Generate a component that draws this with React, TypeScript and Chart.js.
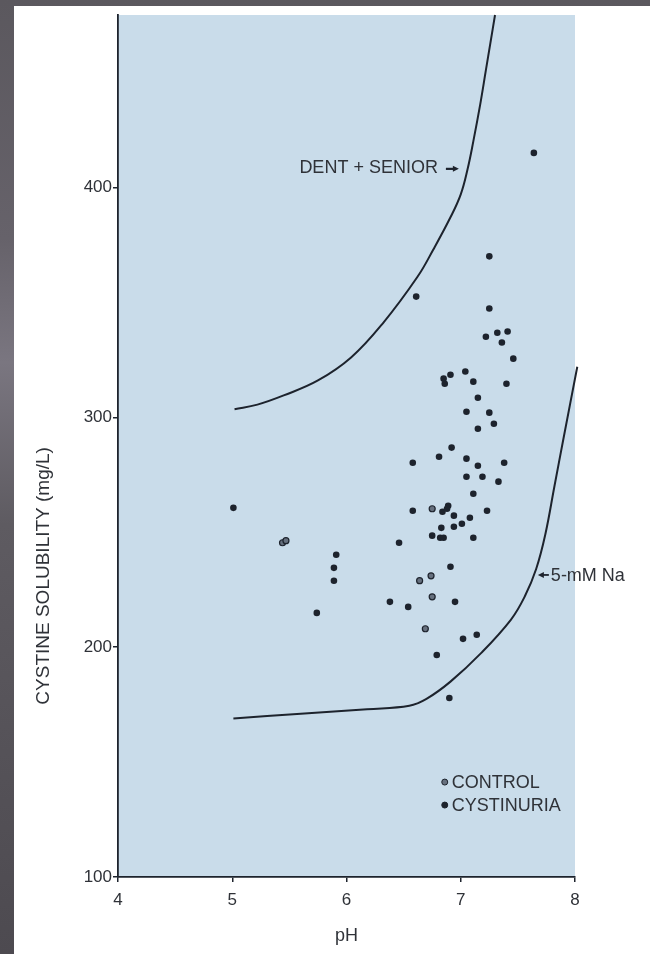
import { useEffect, useRef } from "react";
import { Chart, registerables } from "chart.js";

Chart.register(...registerables);

// ---- axes ----
const X_RANGE = [4, 8];
const Y_RANGE = [100, 475];
const X_TICKS = [4, 5, 6, 7, 8];
const Y_TICKS = [100, 200, 300, 400];
const X_TITLE = "pH";
const Y_TITLE = "CYSTINE SOLUBILITY (mg/L)";

// ---- cystinuria patients (solid dots) ----
const CYSTINURIA_PH = [
  7.64, 7.25, 6.61, 7.25, 7.22, 7.32, 7.41, 7.36, 7.46, 7.04,
  6.85, 6.91, 6.86, 7.11, 7.40, 7.15, 7.05, 7.25, 7.29, 7.15,
  6.92, 6.81, 6.58, 7.05, 7.15, 7.38, 7.05, 7.19, 7.33, 7.11,
  6.58, 6.84, 6.89, 6.88, 6.94, 7.08, 7.23, 6.83, 6.94, 7.01,
  6.75, 6.82, 6.85, 7.11, 6.46, 6.91, 6.38, 6.54, 6.95, 7.02,
  7.14, 6.79, 6.90, 5.01, 5.91, 5.89, 5.89, 5.74,
];
const CYSTINURIA_SOL = [
  415, 370, 352.5, 347.3, 335, 336.8, 337.3, 332.5, 325.5, 319.9,
  316.8, 318.5, 314.6, 315.5, 314.6, 308.5, 302.4, 302, 297.2, 295,
  286.8, 282.8, 280.2, 282, 278.9, 280.2, 274.1, 274.1, 272, 266.7,
  259.3, 258.9, 261.5, 260.2, 257.2, 256.3, 259.3, 251.9, 252.4, 253.7,
  248.5, 247.6, 247.6, 247.6, 245.4, 235, 219.7, 217.5, 219.7, 203.6,
  205.4, 196.6, 177.9, 260.6, 240.2, 234.5, 228.9, 214.9,
];

// ---- controls (grey dots) ----
const CONTROL_PH = [5.44, 5.47, 6.75, 6.64, 6.74, 6.75, 6.69];
const CONTROL_SOL = [245.4, 246.3, 260.2, 228.9, 231, 221.9, 208];

// ---- reference curves ----
const DENT_PH = [5.02, 5.22, 5.45, 5.75, 6.04, 6.32, 6.62, 6.76, 6.91, 7.0, 7.06, 7.11, 7.17, 7.22, 7.26, 7.3];
const DENT_SOL = [303.5, 305.5, 309.5, 316, 326, 341, 361, 373, 387, 397, 408, 420, 436, 451, 463, 475];

const NA_PH = [5.01, 5.6, 6.18, 6.55, 6.7, 6.91, 7.18, 7.44, 7.56, 7.66, 7.74, 7.82, 7.9, 8.02];
const NA_SOL = [169, 171, 173, 174.5, 177.5, 185, 197.5, 212, 222, 234, 249, 270, 291, 322];

const LEGEND_LABELS = ["CONTROL", "CYSTINURIA"];
const CURVE_LABELS = ["DENT + SENIOR", "5-mM Na"];

const FONT = "'Liberation Sans', Arial, Helvetica, sans-serif";
const INK = "#1d232d";
const TEXT = "#2f3238";
const PLOT_BG = "#c9dcea";
const CONTROL_FILL = "#66707e";

const pts = (xs: number[], ys: number[]) => xs.map((x, i) => ({ x, y: ys[i] }));

const decorPlugin = {
  id: "decor",
  beforeDraw(chart: any) {
    const { ctx, chartArea } = chart;
    ctx.save();
    ctx.fillStyle = PLOT_BG;
    ctx.fillRect(chartArea.left, chartArea.top, chartArea.right - chartArea.left, chartArea.bottom - chartArea.top);
    ctx.restore();
  },
  afterDraw(chart: any) {
    const { ctx, scales } = chart;
    const sx = scales.x;
    const sy = scales.y;
    ctx.save();
    ctx.fillStyle = TEXT;
    ctx.strokeStyle = INK;

    // Y axis title
    ctx.save();
    ctx.translate(44, sy.getPixelForValue(231));
    ctx.rotate(-Math.PI / 2);
    ctx.font = `19px ${FONT}`;
    ctx.textAlign = "center";
    ctx.textBaseline = "middle";
    ctx.fillText(Y_TITLE, 0, 0);
    ctx.restore();

    // DENT + SENIOR label with arrow
    const dx = sx.getPixelForValue(6.8);
    const dy = sy.getPixelForValue(408.5);
    ctx.font = `18px ${FONT}`;
    ctx.textAlign = "right";
    ctx.textBaseline = "middle";
    ctx.fillText(CURVE_LABELS[0], dx, dy);
    ctx.fillStyle = INK;
    ctx.lineWidth = 2.2;
    ctx.beginPath();
    ctx.moveTo(dx + 8, dy + 1);
    ctx.lineTo(dx + 16, dy + 1);
    ctx.stroke();
    ctx.beginPath();
    ctx.moveTo(dx + 21, dy + 1);
    ctx.lineTo(dx + 15, dy - 2);
    ctx.lineTo(dx + 15, dy + 4);
    ctx.closePath();
    ctx.fill();

    // 5-mM Na label with arrow
    const nx = sx.getPixelForValue(7.675);
    const ny = sy.getPixelForValue(231.4);
    ctx.beginPath();
    ctx.moveTo(nx + 4, ny);
    ctx.lineTo(nx + 11, ny);
    ctx.lineWidth = 1.8;
    ctx.stroke();
    ctx.beginPath();
    ctx.moveTo(nx, ny);
    ctx.lineTo(nx + 6, ny - 3);
    ctx.lineTo(nx + 6, ny + 3);
    ctx.closePath();
    ctx.fill();
    ctx.fillStyle = TEXT;
    ctx.textAlign = "left";
    ctx.fillText(CURVE_LABELS[1], nx + 13, ny + 1);

    // legend
    const lx = sx.getPixelForValue(6.86);
    const ly = [sy.getPixelForValue(141.3), sy.getPixelForValue(131.3)];
    const fills = [CONTROL_FILL, INK];
    LEGEND_LABELS.forEach((lab, i) => {
      ctx.beginPath();
      ctx.arc(lx, ly[i], 3, 0, Math.PI * 2);
      ctx.fillStyle = fills[i];
      ctx.fill();
      ctx.lineWidth = 1;
      ctx.strokeStyle = INK;
      ctx.stroke();
      ctx.fillStyle = TEXT;
      ctx.font = `18px ${FONT}`;
      ctx.textAlign = "left";
      ctx.textBaseline = "middle";
      ctx.fillText(lab, lx + 7, ly[i] + 1);
    });
    ctx.restore();
  },
};

export default function App() {
  const ref = useRef<HTMLCanvasElement>(null);

  useEffect(() => {
    const canvas = ref.current;
    if (!canvas) return;
    const chart = new Chart(canvas, {
      type: "scatter",
      data: {
        datasets: [
          {
            label: CURVE_LABELS[0],
            data: pts(DENT_PH, DENT_SOL),
            showLine: true,
            borderColor: INK,
            borderWidth: 2,
            pointRadius: 0,
            tension: 0.4,
            clip: 4,
          } as any,
          {
            label: CURVE_LABELS[1],
            data: pts(NA_PH, NA_SOL),
            showLine: true,
            borderColor: INK,
            borderWidth: 2,
            pointRadius: 0,
            tension: 0.4,
            clip: 6,
          } as any,
          {
            label: LEGEND_LABELS[1],
            data: pts(CYSTINURIA_PH, CYSTINURIA_SOL),
            pointRadius: 3.3,
            backgroundColor: INK,
            borderColor: INK,
            borderWidth: 0,
          },
          {
            label: LEGEND_LABELS[0],
            data: pts(CONTROL_PH, CONTROL_SOL),
            pointRadius: 3,
            backgroundColor: CONTROL_FILL,
            borderColor: INK,
            borderWidth: 1.2,
          },
        ],
      },
      options: {
        responsive: false,
        animation: false,
        devicePixelRatio: 1,
        layout: { padding: { left: 0, right: 75, top: 15, bottom: 0 } },
        plugins: { legend: { display: false }, tooltip: { enabled: false } },
        scales: {
          x: {
            type: "linear",
            min: X_RANGE[0],
            max: X_RANGE[1],
            afterFit: (s: any) => {
              s.height = 77;
            },
            afterBuildTicks: (s: any) => {
              s.ticks = X_TICKS.map((v) => ({ value: v }));
            },
            grid: { drawOnChartArea: false, tickLength: 5, color: INK, lineWidth: 1.5 },
            border: { display: true, color: INK, width: 1.8 },
            ticks: { font: { size: 17, family: FONT }, color: TEXT, padding: 8 },
            title: {
              display: true,
              text: X_TITLE,
              font: { size: 18, family: FONT },
              color: TEXT,
              padding: { top: 0, bottom: 7 },
            },
          },
          y: {
            type: "linear",
            min: Y_RANGE[0],
            max: Y_RANGE[1],
            afterFit: (s: any) => {
              s.width = 118;
            },
            afterBuildTicks: (s: any) => {
              s.ticks = Y_TICKS.map((v) => ({ value: v }));
            },
            grid: { drawOnChartArea: false, tickLength: 5, color: INK, lineWidth: 1.5 },
            border: { display: true, color: INK, width: 1.8 },
            ticks: { font: { size: 17, family: FONT }, color: TEXT, padding: 1 },
          },
        },
      },
      plugins: [decorPlugin],
    });
    return () => chart.destroy();
  }, []);

  return (
    <div
      style={{
        position: "fixed",
        left: 0,
        top: 0,
        width: 650,
        height: 954,
        overflow: "hidden",
        background: "linear-gradient(to bottom, #5b585e 0%, #66626a 25%, #7a7680 38%, #5e5b61 55%, #4d4a50 100%)",
      }}
    >
      <div style={{ position: "absolute", left: 14, top: 6, right: 0, bottom: 0, background: "#ffffff" }} />
      <canvas
        ref={ref}
        width={650}
        height={954}
        style={{ position: "absolute", left: 0, top: 0, width: 650, height: 954 }}
      />
    </div>
  );
}
